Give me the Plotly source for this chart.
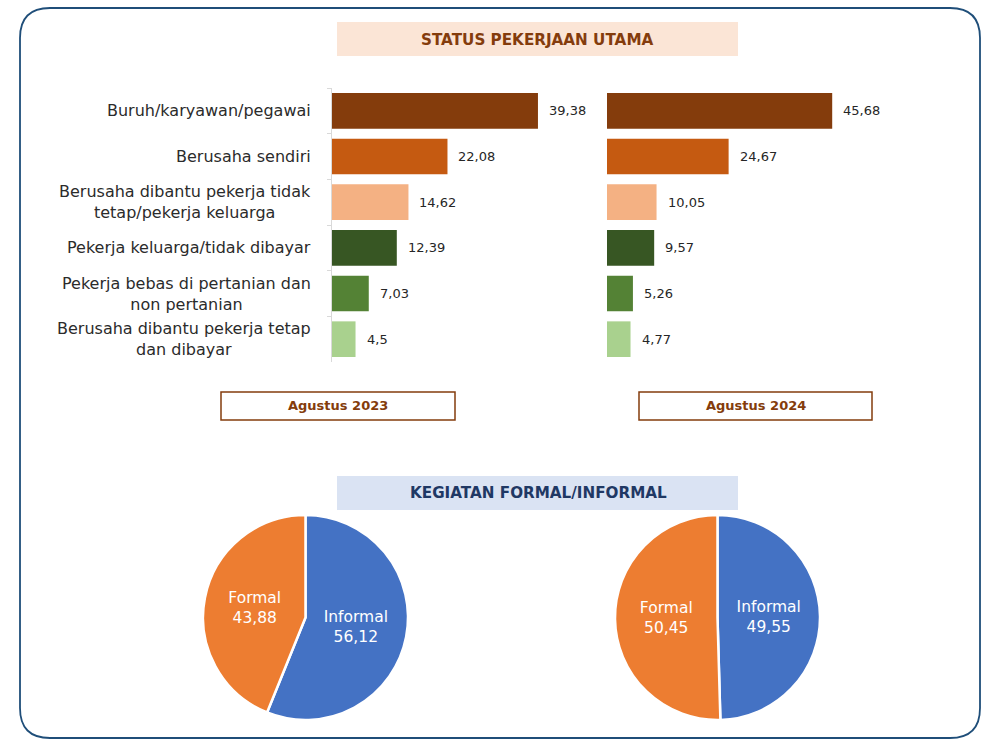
import plotly.graph_objects as go

# ---------------- data ----------------
categories = [
    "Buruh/karyawan/pegawai",
    "Berusaha sendiri",
    "Berusaha dibantu pekerja tidak<br>tetap/pekerja keluarga",
    "Pekerja keluarga/tidak dibayar",
    "Pekerja bebas di pertanian dan<br>non pertanian",
    "Berusaha dibantu pekerja tetap<br>dan dibayar",
]
values_2023 = [39.38, 22.08, 14.62, 12.39, 7.03, 4.5]
values_2024 = [45.68, 24.67, 10.05, 9.57, 5.26, 4.77]
bar_colors = ["#843C0C", "#C55A11", "#F4B183", "#375623", "#548235", "#A9D18E"]

pie_labels = ["Informal", "Formal"]
pie_2023 = [56.12, 43.88]
pie_2024 = [49.55, 50.45]
pie_colors = ["#4472C4", "#ED7D31"]

period_labels = ["Agustus 2023", "Agustus 2024"]
title_bars = "STATUS PEKERJAAN UTAMA"
title_pies = "KEGIATAN FORMAL/INFORMAL"

W, H = 1000, 741


def px(x):
    return x / W


def py(y):
    return 1 - y / H


def fmt(v):
    return f"{v:g}".replace(".", ",")


FONT = "DejaVu Sans"

fig = go.Figure()

# ---------------- bars ----------------
fig.add_trace(go.Bar(
    x=values_2023, y=categories, orientation="h",
    marker=dict(color=bar_colors, line=dict(width=0)),
    xaxis="x", yaxis="y", showlegend=False, hoverinfo="x+y",
))
fig.add_trace(go.Bar(
    x=values_2024, y=categories, orientation="h",
    marker=dict(color=bar_colors, line=dict(width=0)),
    xaxis="x2", yaxis="y2", showlegend=False, hoverinfo="x+y",
))

annotations = []
for ax, vals in (("", values_2023), ("2", values_2024)):
    for c, v in zip(categories, vals):
        annotations.append(dict(
            x=v, y=c, xref="x" + ax, yref="y" + ax, text=fmt(v),
            showarrow=False, xanchor="left", yanchor="middle", xshift=9,
            font=dict(family=FONT, size=13, color="#262626"),
        ))

for c in categories:
    annotations.append(dict(
        x=px(313), y=c, xref="paper", yref="y", text=c,
        showarrow=False, xanchor="right", yanchor="middle", align="center",
        font=dict(family=FONT, size=16, color="#2B2B2B"),
    ))

# ---------------- pies ----------------
for vals, dom in ((pie_2023, [px(203), px(408)]), (pie_2024, [px(615), px(820)])):
    fig.add_trace(go.Pie(
        labels=pie_labels, values=vals, sort=False, direction="clockwise",
        rotation=0, marker=dict(colors=pie_colors, line=dict(color="white", width=2.5)),
        texttemplate="%{label}<br>%{value:.2f}", textposition="inside",
        insidetextorientation="horizontal",
        textfont=dict(family=FONT, size=15.5, color="white"),
        domain=dict(x=dom, y=[py(720), py(515)]), showlegend=False,
    ))

# ---------------- decorations ----------------
shapes = []
# outer rounded frame
x0, x1, y0, y1 = px(20), px(980), py(8), py(738)
rx, ry = px(30), 30 / H
path = (f"M {x0+rx},{y0} L {x1-rx},{y0} Q {x1},{y0} {x1},{y0-ry} "
        f"L {x1},{y1+ry} Q {x1},{y1} {x1-rx},{y1} "
        f"L {x0+rx},{y1} Q {x0},{y1} {x0},{y1+ry} "
        f"L {x0},{y0-ry} Q {x0},{y0} {x0+rx},{y0} Z")
shapes.append(dict(type="path", xref="paper", yref="paper", path=path,
                   line=dict(color="#1F4E79", width=1.8), layer="below"))
# title boxes
shapes.append(dict(type="rect", xref="paper", yref="paper",
                   x0=px(337), x1=px(738), y0=py(56), y1=py(22),
                   fillcolor="#FBE5D6", line=dict(width=0), layer="below"))
shapes.append(dict(type="rect", xref="paper", yref="paper",
                   x0=px(337), x1=px(738), y0=py(510), y1=py(476),
                   fillcolor="#DAE3F3", line=dict(width=0), layer="below"))
# period boxes
for (a, b) in ((221, 455), (639, 872)):
    shapes.append(dict(type="rect", xref="paper", yref="paper",
                       x0=px(a), x1=px(b), y0=py(420), y1=py(392),
                       fillcolor="white", line=dict(color="#843C0C", width=1.5)))

annotations.append(dict(x=px(537), y=py(40), xref="paper", yref="paper",
                        xanchor="center", yanchor="middle",
                        text=f"<b>{title_bars}</b>", showarrow=False,
                        font=dict(family=FONT, size=15.2, color="#843C0C")))
annotations.append(dict(x=px(538), y=py(493), xref="paper", yref="paper",
                        xanchor="center", yanchor="middle",
                        text=f"<b>{title_pies}</b>", showarrow=False,
                        font=dict(family=FONT, size=15.2, color="#1F3864")))
for lab, cx in zip(period_labels, (338, 756)):
    annotations.append(dict(x=px(cx), y=py(406), xref="paper", yref="paper",
                            xanchor="center", yanchor="middle",
                            text=f"<b>{lab}</b>", showarrow=False,
                            font=dict(family=FONT, size=13, color="#843C0C")))

ydom = [py(362), py(88)]
fig.update_layout(
    width=W, height=H, margin=dict(l=0, r=0, t=0, b=0),
    paper_bgcolor="white", plot_bgcolor="rgba(0,0,0,0)",
    bargap=0.22, separators=",.",
    font=dict(family=FONT),
    xaxis=dict(domain=[px(332), px(332 + 48 * 5.23)], range=[0, 48],
               visible=False, fixedrange=True),
    yaxis=dict(domain=ydom, anchor="x", categoryorder="array",
               categoryarray=categories, autorange="reversed",
               showline=True, linecolor="#D9D9D9", linewidth=1,
               ticks="outside", tickson="boundaries", ticklen=4,
               tickcolor="#D9D9D9", showticklabels=False, showgrid=False,
               zeroline=False),
    xaxis2=dict(domain=[px(607), px(607 + 55 * 4.93)], range=[0, 55],
                visible=False, anchor="y2", fixedrange=True),
    yaxis2=dict(domain=ydom, anchor="x2", categoryorder="array",
                categoryarray=categories, autorange="reversed",
                visible=False),
    shapes=shapes, annotations=annotations,
)

fig.write_html("out.html")
